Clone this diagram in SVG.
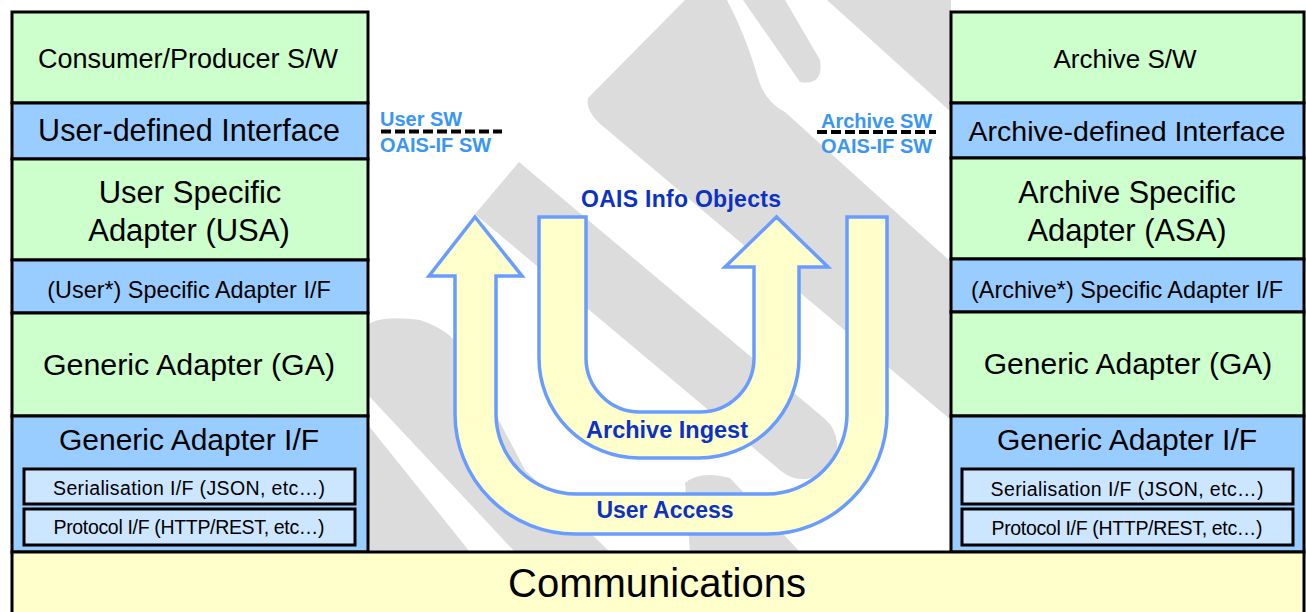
<svg xmlns="http://www.w3.org/2000/svg" width="1306" height="612" viewBox="0 0 1306 612">
<defs>
<style>
.g{fill:#ccffcc;stroke:#000;stroke-width:3}
.b{fill:#99ccff;stroke:#000;stroke-width:3}
.lb{fill:#cce6ff;stroke:#000;stroke-width:3}
.t{font-family:"Liberation Sans",Arial,sans-serif;fill:#000;text-anchor:middle}
.wm{fill:#dcdcdc}
.arr{fill:#ffffcc;stroke:#6a9cff;stroke-width:3.5;stroke-linejoin:miter}
.dk{font-family:"Liberation Sans",Arial,sans-serif;font-weight:bold;fill:#0c32c4;text-anchor:middle}
.lt{font-family:"Liberation Sans",Arial,sans-serif;font-weight:bold;fill:#3a96f5;font-size:20px}
.dash{stroke:#000;stroke-width:4;stroke-dasharray:10 4;fill:none}
</style>
<clipPath id="mid"><rect x="368" y="0" width="583" height="552"/></clipPath>
</defs>
<rect x="0" y="0" width="1306" height="612" fill="#fff"/>
<g id="watermark" clip-path="url(#mid)">
<path class="wm" d="M827,0 L951,0 L951,112 Z"/>
<path class="wm" d="M588,98 L685,0 L727,0 C740,25 750,50 758,78 Q765,102 785,112 L951,262 L951,420 L605,128 Q585,112 588,98 Z"/>
<path class="wm" d="M743,0 L785,0 L820,60 Q824,86 800,82 Z"/>
<path class="wm" d="M475,214 L519,162 L825,419 A34,34 0 0 1 781,471 Z"/>
<path class="wm" d="M368,325 Q380,315 420,320 Q450,330 462,350 L525,470 L610,552 L515,552 L368,395 Z"/>
<path class="wm" d="M368,425 L470,552 L368,552 Z"/>
<path class="wm" d="M685,483 Q700,470 730,478 L800,552 L690,552 Z"/>
</g>
<g id="left-stack">
<g id="consumer-sw"><rect class="g" x="12" y="12" width="356" height="91"/><text class="t" x="188" y="68" font-size="27">Consumer/Producer S/W</text></g>
<g id="user-defined-if"><rect class="b" x="12" y="103" width="356" height="56"/><text class="t" x="189" y="141" font-size="30.5">User-defined Interface</text></g>
<g id="usa"><rect class="g" x="12" y="159" width="356" height="101"/><text class="t" x="190" y="203" font-size="31">User Specific</text><text class="t" x="189" y="241" font-size="31">Adapter (USA)</text></g>
<g id="user-sa-if"><rect class="b" x="12" y="260" width="356" height="53"/><text class="t" x="189" y="298" font-size="23.4">(User*) Specific Adapter I/F</text></g>
<g id="ga-left"><rect class="g" x="12" y="313" width="356" height="103"/><text class="t" x="189" y="375" font-size="30.4">Generic Adapter (GA)</text></g>
<g id="ga-if-left"><rect class="b" x="12" y="416" width="356" height="136"/><text class="t" x="189" y="450" font-size="30">Generic Adapter I/F</text>
<rect class="lb" x="24" y="469" width="331" height="35"/><text class="t" x="189" y="495" font-size="19.5" textLength="272" lengthAdjust="spacing">Serialisation I/F (JSON, etc…)</text>
<rect class="lb" x="24" y="509" width="331" height="36"/><text class="t" x="189" y="534" font-size="19.5" textLength="271" lengthAdjust="spacing">Protocol I/F (HTTP/REST, etc…)</text></g>
</g>
<g id="right-stack">
<g id="archive-sw"><rect class="g" x="951" y="12" width="353" height="91"/><text class="t" x="1125" y="68" font-size="26">Archive S/W</text></g>
<g id="archive-defined-if"><rect class="b" x="951" y="103" width="353" height="55"/><text class="t" x="1127" y="141" font-size="28.5">Archive-defined Interface</text></g>
<g id="asa"><rect class="g" x="951" y="158" width="353" height="101"/><text class="t" x="1127" y="203" font-size="30.6">Archive Specific</text><text class="t" x="1127" y="241" font-size="30.9">Adapter (ASA)</text></g>
<g id="archive-sa-if"><rect class="b" x="951" y="259" width="353" height="53"/><text class="t" x="1127" y="298" font-size="23.4">(Archive*) Specific Adapter I/F</text></g>
<g id="ga-right"><rect class="g" x="951" y="312" width="353" height="104"/><text class="t" x="1128" y="374" font-size="30">Generic Adapter (GA)</text></g>
<g id="ga-if-right"><rect class="b" x="951" y="416" width="353" height="136"/><text class="t" x="1127" y="450" font-size="30">Generic Adapter I/F</text>
<rect class="lb" x="962" y="469" width="331" height="35"/><text class="t" x="1127" y="496" font-size="19.5" textLength="273" lengthAdjust="spacing">Serialisation I/F (JSON, etc…)</text>
<rect class="lb" x="962" y="509" width="331" height="36"/><text class="t" x="1127" y="535" font-size="19.5" textLength="271" lengthAdjust="spacing">Protocol I/F (HTTP/REST, etc…)</text></g>
</g>
<g id="communications"><rect x="12" y="552" width="1292" height="64" fill="#ffffcc" stroke="#000" stroke-width="3"/><text class="t" x="657" y="597" font-size="40">Communications</text></g>
<g id="connectors">
<path id="user-access" class="arr" d="M455,276 L455,414 A120,120 0 0 0 575,534 L767,534 A120,120 0 0 0 887,414 L887,217 L847,217 L847,414 A80,80 0 0 1 767,494 L576,494 A80,80 0 0 1 496,414 L496,276 L522,276 L475,217 L429,276 Z"/>
<path id="archive-ingest" class="arr" d="M539,217 L539,358 A100,100 0 0 0 639,458 L699,458 A100,100 0 0 0 799,358 L799,267 L828,267 L776.5,217 L725,267 L754,267 L754,358 A54,54 0 0 1 700,412 L640,412 A54,54 0 0 1 586,358 L586,217 Z"/>
</g>
<g id="labels">
<text class="dk" x="681" y="207" font-size="23" textLength="200" lengthAdjust="spacing">OAIS Info Objects</text>
<text class="dk" x="667" y="438" font-size="23.5">Archive Ingest</text>
<text class="dk" x="665" y="518" font-size="23">User Access</text>
<text class="lt" x="380" y="126">User SW</text>
<line class="dash" x1="381" y1="131.5" x2="502" y2="131.5"/>
<text class="lt" x="380" y="152">OAIS-IF SW</text>
<text class="lt" x="821" y="128">Archive SW</text>
<line class="dash" x1="817" y1="132" x2="936" y2="132"/>
<text class="lt" x="821" y="153">OAIS-IF SW</text>
</g>
</svg>
